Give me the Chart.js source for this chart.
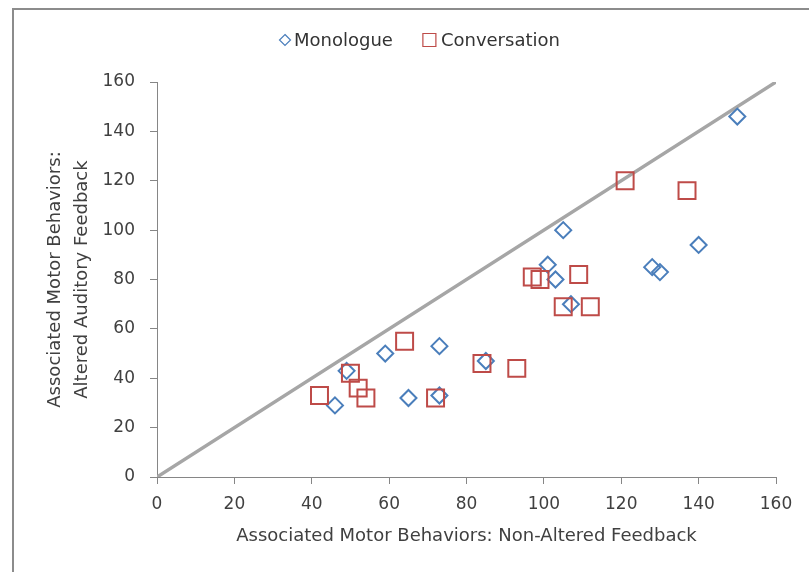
<!DOCTYPE html>
<html>
<head>
<meta charset="utf-8">
<script src="https://cdn.jsdelivr.net/npm/chart.js@4/dist/chart.umd.min.js"></script>
<style>
  html, body { margin: 0; padding: 0; background: #fff; }
  #wrap { width: 809px; height: 572px; }
</style>
</head>
<body>
<div id="wrap"><canvas id="scatterChart" width="809" height="572"></canvas></div>
<script>
// values
const monologueX = [46, 49, 59, 65, 73, 73, 85, 105, 101, 103, 107, 128, 130, 140, 150];
const monologueY = [29, 43, 50, 32, 53, 33, 47, 100, 86, 80, 70, 85, 83, 94, 146];
const conversationX = [42, 50, 52, 54, 64, 72, 84, 93, 97, 99, 105, 109, 112, 121, 137];
const conversationY = [33, 42, 36, 32, 55, 32, 46, 44, 81, 80, 69, 82, 69, 120, 116];
const identityLine = [0, 160];
const axisTicks = [0, 20, 40, 60, 80, 100, 120, 140, 160];

const seriesNames = ['Monologue', 'Conversation'];
const xTitle = 'Associated Motor Behaviors: Non-Altered Feedback';
const yTitle = ['Associated Motor Behaviors:', 'Altered Auditory Feedback'];

const FONT = 'DejaVu Sans';
const blue = '#4a7ebb';
const red = '#be4b48';

function toPoints(xs, ys) {
  return xs.map((x, i) => ({ x: x, y: ys[i] }));
}

// outer frame of the chart object
const framePlugin = {
  id: 'frame',
  beforeDraw(chart) {
    const ctx = chart.ctx;
    ctx.save();
    ctx.fillStyle = '#fff';
    ctx.fillRect(0, 0, chart.width, chart.height);
    ctx.strokeStyle = '#8c8c8c';
    ctx.lineWidth = 2;
    ctx.strokeRect(13, 9, chart.width + 20, chart.height + 20);
    ctx.restore();
  }
};

// legend drawn like the office one: small marker then name
const legendPlugin = {
  id: 'officeLegend',
  afterDraw(chart) {
    const ctx = chart.ctx;
    const y = 40;
    let x = 280;
    ctx.save();
    ctx.font = '18px "' + FONT + '"';
    ctx.textBaseline = 'middle';
    ctx.textAlign = 'left';
    chart.data.datasets.forEach(ds => {
      if (!ds.inLegend) return;
      ctx.strokeStyle = ds.borderColor;
      ctx.lineWidth = 1.2;
      ctx.beginPath();
      if (ds.pointStyle === 'rectRot') {
        ctx.moveTo(x + 5, y - 5.5);
        ctx.lineTo(x + 10.5, y);
        ctx.lineTo(x + 5, y + 5.5);
        ctx.lineTo(x - 0.5, y);
        ctx.closePath();
      } else {
        ctx.rect(x - 4, y - 6.5, 13, 13);
      }
      ctx.stroke();
      ctx.fillStyle = '#333';
      ctx.fillText(ds.label, x + 14, y + 1);
      x += 14 + ctx.measureText(ds.label).width + 34;
    });
    ctx.restore();
  }
};

const ctx = document.getElementById('scatterChart').getContext('2d');
const myChart = new Chart(ctx, {
  type: 'scatter',
  data: {
    datasets: [
      {
        label: 'diagonal',
        data: toPoints(identityLine, identityLine),
        showLine: true,
        borderColor: '#a6a6a6',
        borderWidth: 3.5,
        pointRadius: 0,
        borderCapStyle: 'round',
        order: 3
      },
      {
        label: seriesNames[0],
        data: toPoints(monologueX, monologueY),
        pointStyle: 'rectRot',
        pointRadius: 8,
        pointBorderWidth: 2,
        borderColor: blue,
        backgroundColor: 'rgba(0,0,0,0)',
        inLegend: true,
        order: 2
      },
      {
        label: seriesNames[1],
        data: toPoints(conversationX, conversationY),
        pointStyle: 'rect',
        pointRadius: 12,
        pointBorderWidth: 2,
        borderColor: red,
        backgroundColor: 'rgba(0,0,0,0)',
        inLegend: true,
        order: 1
      }
    ]
  },
  options: {
    responsive: false,
    animation: false,
    layout: { padding: { top: 82, right: 33, bottom: 0, left: 0 } },
    plugins: {
      legend: { display: false },
      tooltip: { enabled: false }
    },
    scales: {
      x: {
        type: 'linear',
        min: 0,
        max: 160,
        afterBuildTicks: axis => { axis.ticks = axisTicks.map(v => ({ value: v })); },
        afterFit: axis => { axis.height = 95; },
        grid: { drawOnChartArea: false, drawTicks: true, tickLength: 7, color: '#868686' },
        border: { color: '#868686', width: 1 },
        ticks: { color: '#404040', font: { family: FONT, size: 17 }, padding: 10, maxRotation: 0 },
        title: {
          display: true,
          text: xTitle,
          color: '#404040',
          font: { family: FONT, size: 18, lineHeight: 1.2 },
          padding: { top: 4, bottom: 25 }
        }
      },
      y: {
        type: 'linear',
        min: 0,
        max: 160,
        afterBuildTicks: axis => { axis.ticks = axisTicks.map(v => ({ value: v })); },
        afterFit: axis => { axis.width = 157; },
        grid: { drawOnChartArea: false, drawTicks: true, tickLength: 7, color: '#868686' },
        border: { color: '#868686', width: 1 },
        ticks: { color: '#404040', font: { family: FONT, size: 17 }, padding: 15 },
        title: {
          display: true,
          text: yTitle,
          color: '#404040',
          font: { family: FONT, size: 18, lineHeight: 1.5 },
          padding: { top: 42, bottom: 0 }
        }
      }
    }
  },
  plugins: [framePlugin, legendPlugin]
});
</script>
</body>
</html>
